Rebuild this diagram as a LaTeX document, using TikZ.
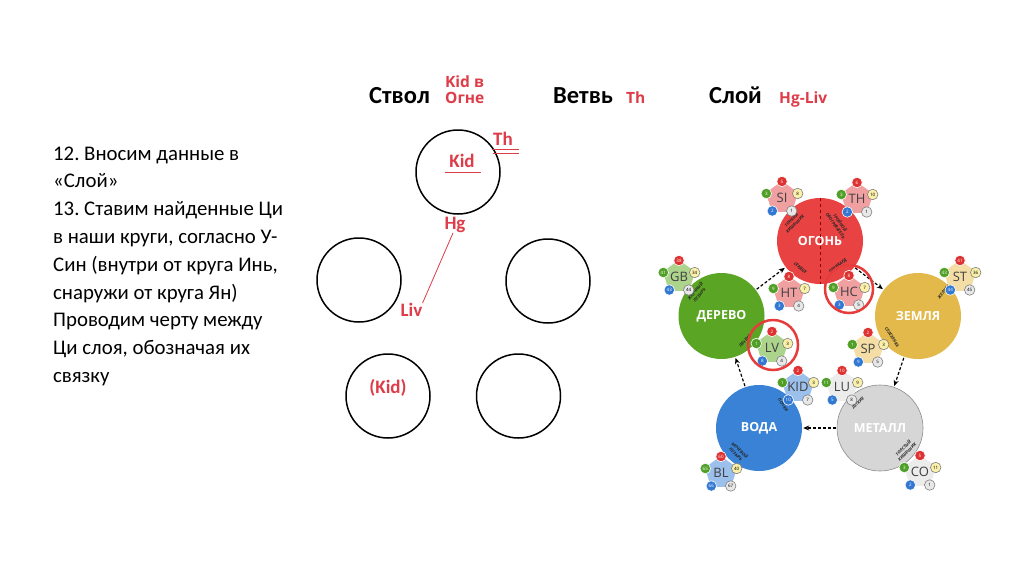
\documentclass[tikz,border=0pt]{standalone}
\usepackage{fontspec}
\setmainfont{Carlito}
\newfontfamily\osans{Open Sans}
\usetikzlibrary{arrows.meta,shapes.geometric,backgrounds}
\frenchspacing
\definecolor{rtxt}{RGB}{222,60,72}
\definecolor{cfire}{RGB}{232,66,66}
\definecolor{cwood}{RGB}{90,165,35}
\definecolor{cearth}{RGB}{226,185,74}
\definecolor{cwater}{RGB}{58,130,214}
\definecolor{cmetal}{RGB}{214,214,214}
\definecolor{pfire}{RGB}{240,160,160}
\definecolor{pwood}{RGB}{172,212,140}
\definecolor{pearth}{RGB}{245,222,165}
\definecolor{pwater}{RGB}{155,192,235}
\definecolor{pmetal}{RGB}{236,236,236}
\definecolor{dred}{RGB}{222,50,50}
\definecolor{dgreen}{RGB}{80,160,40}
\definecolor{dyellow}{RGB}{250,240,170}
\definecolor{dblue}{RGB}{50,120,210}
\definecolor{dgray}{RGB}{232,232,232}
\definecolor{hlred}{RGB}{230,60,60}
\tikzset{
  ycirc/.style={circle, draw=black, line width=1.5pt, minimum size=84pt, inner sep=0pt},
  hdr/.style={anchor=base west, font=\bfseries\fontsize{24.5}{24.5}\selectfont, text=black, inner sep=0pt},
  hred/.style={anchor=base west, font=\osans\bfseries\fontsize{15.5}{15.5}\selectfont, text=rtxt, inner sep=0pt},
  rlab/.style={font=\bfseries\fontsize{19}{19}\selectfont, text=rtxt, inner sep=0pt},
  body/.style={anchor=base west, font=\fontsize{20.8}{20.8}\selectfont, inner sep=0pt},
  big/.style={circle, minimum size=86pt, inner sep=0pt, text=white, font=\osans\bfseries\fontsize{12.5}{12.5}\selectfont},
  organ/.style={font=\osans\bfseries\itshape\fontsize{4.2}{5.4}\selectfont, align=center, inner sep=0pt, text=black!85},
  pent/.style={regular polygon, regular polygon sides=5, minimum size=34pt, inner sep=0pt, rounded corners=2pt},
  plab/.style={font=\osans\fontsize{13}{13}\selectfont, text=black!75, inner sep=0pt},
  pdot/.style={circle, minimum size=10.5pt, inner sep=0pt, font=\osans\fontsize{4.5}{4.5}\selectfont, draw=white, line width=0.6pt},
  outarr/.style={densely dashed, line width=1.2pt, -{Stealth[length=6pt,width=5pt]}, shorten <=1pt, shorten >=1pt},
  inarr/.style={dashed, line width=1pt, draw=black!22, -{Stealth[length=7pt,width=7pt]}},
  hl/.style={circle, draw=hlred, line width=2.5pt, inner sep=0pt}
}
\begin{document}
\begin{tikzpicture}[x=1pt,y=-1pt]
\useasboundingbox (0,0) rectangle (1024,576);
\fill[white] (0,0) rectangle (1024,576);

% ---- header ----
\node[hdr] (h1) at (369,103) {Ствол};
\node[hred] (h1a) at (445,87) {Kid в};
\node[hred] (h1b) at (445,103) {Огне};
\node[hdr] (h2) at (553,103) {Ветвь};
\node[hred] (h2a) at (626,103) {Th};
\node[hdr] (h3) at (709,103) {Слой};
\node[hred] (h3a) at (779,103) {Hg-Liv};

% ---- left text ----
\node[body] (t1) at (53,160) {12. Вносим данные в};
\node[body] (t2) at (53,187.8) {«Слой»};
\node[body] (t3) at (53,215.6) {13. Ставим найденные Ци};
\node[body] (t4) at (53,243.4) {в наши круги, согласно У-};
\node[body] (t5) at (53,271.2) {Син (внутри от круга Инь,};
\node[body] (t6) at (53,299) {снаружи от круга Ян)};
\node[body] (t7) at (53,326.8) {Проводим черту между};
\node[body] (t8) at (53,354.6) {Ци слоя, обозначая их};
\node[body] (t9) at (53,382.4) {связку};

% ---- middle circles ----
\node[ycirc] (c1) at (458,172) {};
\node[ycirc] (c2) at (359,280) {};
\node[ycirc] (c3) at (548,281) {};
\node[ycirc] (c4) at (388,396) {};
\node[ycirc] (c5) at (518.5,396) {};

\node[rlab] (th) at (503,139) {Th};
\coordinate (thu1) at (492.5,149.5);
\coordinate (thu2) at (518.5,149.5);
\coordinate (thu3) at (492.5,153.5);
\coordinate (thu4) at (518.5,153.5);
\draw[rtxt, line width=1pt] (thu1) -- (thu2) (thu3) -- (thu4);
\node[rlab] (kid) at (462,161) {Kid};
\coordinate (ku1) at (445,172);
\coordinate (ku2) at (481,172);
\draw[rtxt, line width=1pt] (ku1) -- (ku2);
\node[rlab] (hg) at (455,225) {Hg};
\node[rlab] (liv) at (411.5,310) {Liv};
\node[rlab] (kid2) at (388,388) {(Kid)};
\draw[rtxt, line width=0.8pt] (hg.south) ++(-2,0) coordinate (hgs) -- (liv.north east);

% ---- right diagram: big circles ----
\node[big, fill=cfire] (fire) at (820,241) {ОГОНЬ};
\node[big, fill=cwood] (wood) at (721.5,316) {ДЕРЕВО};
\node[big, fill=cearth] (earth) at (918,316) {ЗЕМЛЯ};
\node[big, fill=cwater] (water) at (759,428) {ВОДА};
\node[big, fill=cmetal, draw=black!45, line width=0.6pt] (metal) at (880,428) {МЕТАЛЛ};
\draw[dashed, draw=red!55!black, line width=0.8pt] (fire.north) -- (fire.south);

\begin{pgfonlayer}{background}
\fill[black!7] (fire.center) -- (earth.center) -- (metal.center) -- (water.center) -- (wood.center) -- cycle;
\draw[inarr] (fire) -- (metal);
\draw[inarr] (metal) -- (wood);
\draw[inarr] (wood) -- (earth);
\draw[inarr] (earth) -- (water);
\draw[inarr] (water) -- (fire);
\end{pgfonlayer}

\draw[outarr] (wood) -- (fire);
\draw[outarr] (fire) -- (earth);
\draw[outarr] (earth) -- (metal);
\draw[outarr] (metal) -- (water);
\draw[outarr] (water) -- (wood);

% organ captions
\node[organ, rotate=45] (o1) at (793,222) {ТОНКИЙ\\КИШЕЧНИК};
\node[organ, rotate=-55] (o2) at (838,224) {ТРОЙНОЙ\\ОБОГРЕВАТЕЛЬ};
\node[organ, rotate=-38] (o3) at (800,268) {СЕРДЦЕ};
\node[organ, rotate=38] (o4) at (838,266) {ПЕРИКАРД};
\node[organ, rotate=50] (o5) at (697,293) {ЖЕЛЧНЫЙ\\ПУЗЫРЬ};
\node[organ, rotate=50] (o6) at (745,341) {ПЕЧЕНЬ};
\node[organ, rotate=50] (o7) at (945,291) {ЖЕЛУДОК};
\node[organ, rotate=-58] (o8) at (892,337) {СЕЛЕЗЕНКА};
\node[organ, rotate=-55] (o9) at (783,405) {ПОЧКИ};
\node[organ, rotate=-45] (o10) at (738,452) {МОЧЕВОЙ\\ПУЗЫРЬ};
\node[organ, rotate=45] (o11) at (858,403) {ЛЕГКИЕ};
\node[organ, rotate=45] (o12) at (905,450) {ТОЛСТЫЙ\\КИШЕЧНИК};

% small pentagons
\foreach \nm/\px/\py/\pc/\lab/\na/\nb/\nc/\nd/\ne in {
 si/782/198/pfire/SI/5/3/8/2/1,
 th/857/199/pfire/TH/6/3/10/2/1,
 ht/789/293/pfire/HT/8/9/7/3/4,
 hc/849/292/pfire/HC/8/9/7/3/5,
 gb/679/277/pwood/GB/38/41/34/43/44,
 st/960/277/pearth/ST/41/43/36/44/45,
 lv/772/348/pwood/LV/2/1/3/8/4,
 sp/868/349/pearth/SP/2/1/3/9/5,
 kid/798/387/pwater/KID/2/1/3/10/7,
 lu/842/387/pmetal/LU/10/11/9/5/8,
 bl/721/473/pwater/BL/60/65/40/66/67,
 co/920/472/pmetal/CO/5/3/11/2/1}
{
 \node[pent, fill=\pc] (\nm) at (\px,\py) {};
 \node[plab] (\nm-l) at (\px,\py) {\lab};
 \node[pdot, fill=dred, text=white] (\nm-a) at ([shift={(0,-16.5)}]\px,\py) {\na};
 \node[pdot, fill=dgreen, text=white] (\nm-b) at ([shift={(-15.7,-4.5)}]\px,\py) {\nb};
 \node[pdot, fill=dyellow, draw=black!50, text=black] (\nm-c) at ([shift={(15.7,-4.5)}]\px,\py) {\nc};
 \node[pdot, fill=dblue, text=white] (\nm-d) at ([shift={(-9.7,13)}]\px,\py) {\nd};
 \node[pdot, fill=dgray, draw=black!50, text=black] (\nm-e) at ([shift={(9.7,13)}]\px,\py) {\ne};
}

% highlight circles
\node[hl, minimum size=48pt] (hl1) at (849,289) {};
\node[hl, minimum size=50pt] (hl2) at (773,345) {};
\end{tikzpicture}
\end{document}
